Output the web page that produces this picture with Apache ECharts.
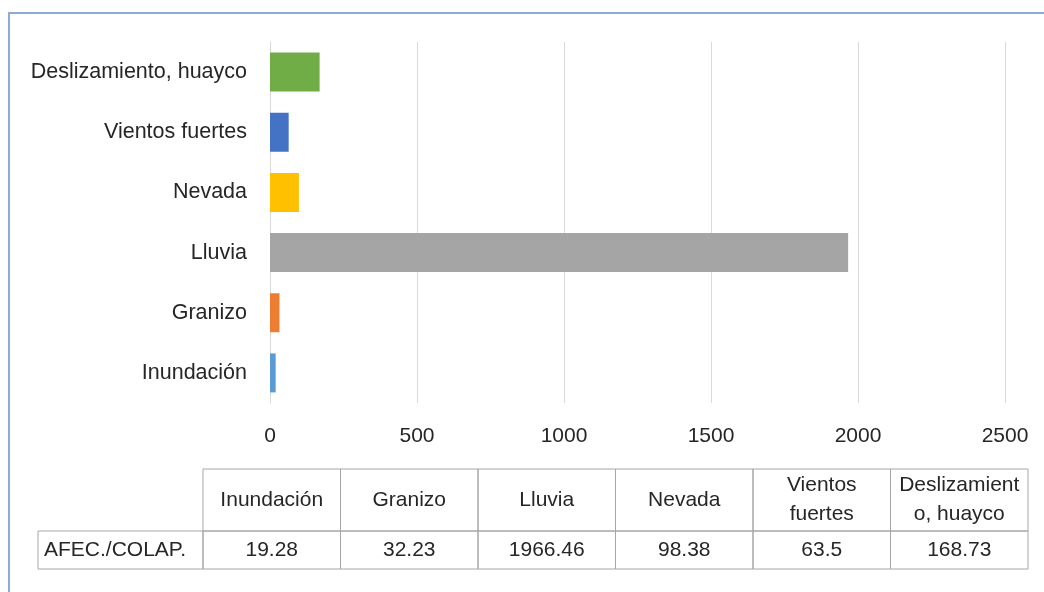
<!DOCTYPE html>
<html>
<head>
<meta charset="utf-8">
<script src="https://cdn.jsdelivr.net/npm/echarts@6/dist/echarts.min.js"></script>
<style>
  html, body { margin: 0; padding: 0; background: #fff; }
  #main { width: 1044px; height: 592px; }
</style>
</head>
<body>
<div id="main"></div>
<script>
// categories bottom-to-top (echarts puts the first category at the bottom)
var categories = ['Inundación', 'Granizo', 'Lluvia', 'Nevada', 'Vientos fuertes', 'Deslizamiento, huayco'];
var values = [19.28, 32.23, 1966.46, 98.38, 63.5, 168.73];
var barColors = ['#5b9bd5', '#ed7d31', '#a5a5a5', '#ffc000', '#4472c4', '#70ad47'];
var tableHeaders = ['Inundación', 'Granizo', 'Lluvia', 'Nevada', 'Vientos\nfuertes', 'Deslizamient\no, huayco'];
var tableValues = ['19.28', '32.23', '1966.46', '98.38', '63.5', '168.73'];
var rowLabel = 'AFEC./COLAP.';

var font = '"Liberation Sans", Arial, sans-serif';
var textColor = '#262626';
var lineColor = '#a6a6a6';

// table layout
var colX = 203, colW = 137.5;
var headTop = 469, headBottom = 531, rowBottom = 569;
var labelLeft = 38;

var graphics = [];
// outer frame (top + left only visible)
graphics.push({ type: 'polyline', shape: { points: [[9, 592], [9, 13], [1044, 13]] },
  style: { stroke: '#8eaadb', lineWidth: 2, fill: null } });

// header cells
tableHeaders.forEach(function (h, i) {
  var x = colX + i * colW;
  graphics.push({ type: 'rect', shape: { x: x, y: headTop, width: colW, height: headBottom - headTop },
    style: { fill: null, stroke: lineColor, lineWidth: 1 } });
  graphics.push({ type: 'text', x: x + colW / 2, y: (headTop + headBottom) / 2,
    style: { text: h, fill: textColor, font: '21px ' + font, align: 'center', verticalAlign: 'middle', lineHeight: 29 } });
  graphics.push({ type: 'rect', shape: { x: x, y: headBottom, width: colW, height: rowBottom - headBottom },
    style: { fill: null, stroke: lineColor, lineWidth: 1 } });
  graphics.push({ type: 'text', x: x + colW / 2, y: (headBottom + rowBottom) / 2,
    style: { text: tableValues[i], fill: textColor, font: '21px ' + font, align: 'center', verticalAlign: 'middle' } });
});
// row label cell
graphics.push({ type: 'rect', shape: { x: labelLeft, y: headBottom, width: colX - labelLeft, height: rowBottom - headBottom },
  style: { fill: null, stroke: lineColor, lineWidth: 1 } });
graphics.push({ type: 'text', x: labelLeft + 6, y: (headBottom + rowBottom) / 2,
  style: { text: rowLabel, fill: textColor, font: '21px ' + font, align: 'left', verticalAlign: 'middle' } });

var myChart = echarts.init(document.getElementById('main'));
myChart.setOption({
  animation: false,
  textStyle: { fontFamily: font },
  grid: { left: 270, right: 39, top: 42, height: 361, containLabel: false },
  xAxis: {
    type: 'value',
    min: 0, max: 2500, interval: 500,
    axisLine: { show: false },
    axisTick: { show: false },
    axisLabel: { color: textColor, fontSize: 21, margin: 23, formatter: function (v) { return String(v); } },
    splitLine: { lineStyle: { color: '#d9d9d9', width: 1 } }
  },
  yAxis: {
    type: 'category',
    data: categories,
    axisLine: { show: true, lineStyle: { color: '#d9d9d9' } },
    axisTick: { show: false },
    axisLabel: { color: textColor, fontSize: 21.5, margin: 23 }
  },
  series: [{
    type: 'bar',
    data: values.map(function (v, i) { return { value: v, itemStyle: { color: barColors[i] } }; }),
    barWidth: 39
  }],
  graphic: graphics
});
</script>
</body>
</html>
